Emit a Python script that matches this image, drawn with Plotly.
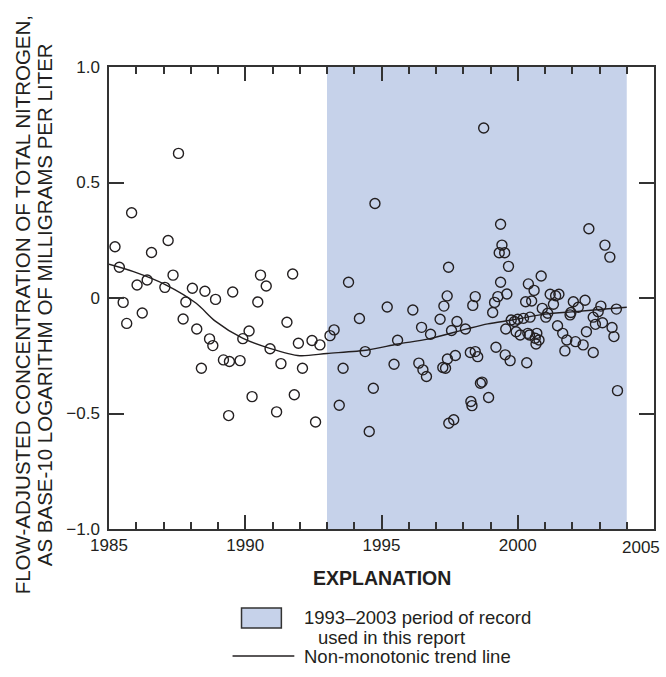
import plotly.graph_objects as go

# ---- data ----
years = [1985.22, 1985.38, 1985.52, 1985.65, 1985.83, 1986.03, 1986.22, 1986.40, 1986.56, 1987.05,
         1987.17, 1987.35, 1987.55, 1987.72, 1987.82, 1988.06, 1988.22, 1988.39, 1988.52, 1988.69,
         1988.81, 1988.91, 1989.20, 1989.39, 1989.42, 1989.54, 1989.81, 1989.91, 1990.14, 1990.25,
         1990.46, 1990.56, 1990.77, 1990.91, 1991.15, 1991.31, 1991.53, 1991.74, 1991.80, 1991.95,
         1992.10, 1992.45, 1992.58, 1992.74, 1993.11, 1993.26, 1993.45, 1993.59, 1993.79, 1994.19,
         1994.40, 1994.55, 1994.70, 1994.76, 1995.21, 1995.46, 1995.59, 1996.15, 1996.37, 1996.47,
         1996.52, 1996.65, 1996.80, 1997.15, 1997.25, 1997.29, 1997.35, 1997.41, 1997.42, 1997.46,
         1997.47, 1997.57, 1997.65, 1997.71, 1997.77, 1998.08, 1998.26, 1998.28, 1998.32, 1998.35,
         1998.44, 1998.44, 1998.53, 1998.63, 1998.69, 1998.75, 1998.93, 1999.08, 1999.15, 1999.20,
         1999.27, 1999.32, 1999.37, 1999.37, 1999.42, 1999.52, 1999.54, 1999.56, 1999.60, 1999.66,
         1999.72, 1999.76, 1999.88, 1999.94, 2000.00, 2000.09, 2000.21, 2000.29, 2000.33, 2000.37,
         2000.39, 2000.43, 2000.45, 2000.51, 2000.60, 2000.64, 2000.67, 2000.70, 2000.78, 2000.86,
         2000.90, 2001.03, 2001.10, 2001.19, 2001.31, 2001.39, 2001.46, 2001.51, 2001.65, 2001.73,
         2001.80, 2001.92, 2001.95, 2002.04, 2002.12, 2002.22, 2002.40, 2002.47, 2002.52, 2002.61,
         2002.77, 2002.77, 2002.85, 2002.95, 2003.05, 2003.11, 2003.20, 2003.38, 2003.46, 2003.53,
         2003.62, 2003.66]
concentration = [0.222, 0.133, -0.019, -0.110, 0.369, 0.056, -0.065, 0.078, 0.197, 0.046,
                 0.249, 0.099, 0.626, -0.091, -0.017, 0.042, -0.134, -0.304, 0.029, -0.177,
                 -0.206, -0.006, -0.268, -0.509, -0.275, 0.026, -0.271, -0.176, -0.143, -0.427,
                 -0.017, 0.099, 0.052, -0.220, -0.493, -0.284, -0.105, 0.104, -0.419, -0.196,
                 -0.304, -0.184, -0.537, -0.203, -0.163, -0.138, -0.464, -0.304, 0.068, -0.089,
                 -0.232, -0.578, -0.391, 0.409, -0.039, -0.287, -0.183, -0.052, -0.282, -0.127,
                 -0.311, -0.340, -0.157, -0.092, -0.301, -0.035, -0.304, 0.009, -0.264, 0.133,
                 -0.542, -0.141, -0.527, -0.249, -0.102, -0.134, -0.236, -0.448, -0.466, -0.032,
                 0.006, -0.232, -0.254, -0.369, -0.364, 0.736, -0.431, -0.063, -0.019, -0.213,
                 0.006, 0.196, 0.319, 0.068, 0.229, 0.196, -0.246, -0.134, 0.017, 0.137,
                 -0.271, -0.095, -0.102, -0.146, -0.092, -0.160, -0.088, -0.016, -0.280, -0.153,
                 0.061, -0.160, -0.083, -0.013, 0.033, -0.174, -0.199, -0.153, -0.182, 0.095,
                 -0.045, -0.083, -0.066, 0.016, -0.027, 0.010, -0.120, 0.016, -0.153, -0.229,
                 -0.182, -0.073, -0.063, -0.016, -0.189, -0.040, -0.203, -0.010, -0.146, 0.300,
                 -0.083, -0.236, -0.114, -0.059, -0.035, -0.107, 0.229, 0.177, -0.128, -0.167,
                 -0.048, -0.401]

trend_years = [1985.0, 1985.9, 1987.1, 1988.2, 1988.9, 1989.9, 1990.9, 1992.0, 1993.0, 1994.5,
               1995.6, 1996.7, 1998.1, 1998.9, 1999.8, 2001.0, 2002.1, 2003.1, 2004.0]
trend_values = [0.146, 0.114, 0.056, -0.023, -0.100, -0.174, -0.218, -0.250, -0.240, -0.225,
                -0.199, -0.178, -0.135, -0.112, -0.095, -0.070, -0.059, -0.049, -0.040]

period_start, period_end = 1993, 2004
x_tickvals = [1985, 1990, 1995, 2000]
x_ticktext = ["1985", "1990", "1995", "2000"]
x_last_tick = 2005
x_last_text = "2005"
y_tickvals = [-1.0, -0.5, 0, 0.5, 1.0]
y_ticktext = ["\u22121.0", "\u22120.5", "0", "0.5", "1.0"]

# ---- layout geometry (pixels) ----
W, H = 666, 677
ML, MR, MT, MB = 109, 10, 67, 148
PW, PH = W - ML - MR, H - MT - MB
TXT = "#231F20"
SHADE = "#C6D2EA"
FONT = "Arial, Liberation Sans, Helvetica, sans-serif"


def px(x):
    return (x - ML) / PW


def py(y):
    return (MT + PH - y) / PH


fig = go.Figure()
fig.add_trace(go.Scatter(x=trend_years, y=trend_values, mode="lines",
                         line=dict(color="#231F20", width=1.4, shape="spline", smoothing=0.8),
                         showlegend=False, hoverinfo="skip"))
fig.add_trace(go.Scatter(x=years, y=concentration, mode="markers",
                         marker=dict(symbol="circle-open", size=10, color="#231F20",
                                     line=dict(width=1.4, color="#231F20")),
                         showlegend=False))

shapes = [
    dict(type="rect", xref="x", yref="paper", x0=period_start, x1=period_end, y0=0, y1=1,
         fillcolor=SHADE, line=dict(width=0), layer="below"),
    # legend box
    dict(type="rect", xref="paper", yref="paper", x0=px(242), x1=px(282), y0=py(628), y1=py(608),
         fillcolor=SHADE, line=dict(color="#333333", width=1.5)),
    # legend line
    dict(type="line", xref="paper", yref="paper", x0=px(233), x1=px(295), y0=py(656), y1=py(656),
         line=dict(color="#231F20", width=1.4)),
]

annotations = [
    dict(text="FLOW-ADJUSTED CONCENTRATION OF TOTAL NITROGEN,", textangle=-90,
         xref="paper", yref="paper", x=px(22), y=py(305), xanchor="center", yanchor="middle",
         showarrow=False, font=dict(size=20.5, color=TXT, family=FONT)),
    dict(text="AS BASE-10 LOGARITHM OF MILLIGRAMS PER LITER", textangle=-90,
         xref="paper", yref="paper", x=px(44), y=py(305), xanchor="center", yanchor="middle",
         showarrow=False, font=dict(size=20.5, color=TXT, family=FONT)),
    # last x tick label, pulled inside the page edge as in the original
    dict(text=x_last_text, xref="paper", yref="paper", x=px(664), y=py(547),
         xanchor="right", yanchor="middle", showarrow=False,
         font=dict(size=17, color=TXT, family=FONT)),
    dict(text="<b>EXPLANATION</b>", xref="paper", yref="paper", x=px(383), y=py(578),
         xanchor="center", yanchor="middle", showarrow=False,
         font=dict(size=19.5, color=TXT, family=FONT)),
    dict(text="1993\u20132003 period of record", xref="paper", yref="paper", x=px(303), y=py(617),
         xanchor="left", yanchor="middle", showarrow=False,
         font=dict(size=18.5, color=TXT, family=FONT)),
    dict(text="used in this report", xref="paper", yref="paper", x=px(317), y=py(637),
         xanchor="left", yanchor="middle", showarrow=False,
         font=dict(size=18.5, color=TXT, family=FONT)),
    dict(text="Non-monotonic trend line", xref="paper", yref="paper", x=px(303), y=py(656),
         xanchor="left", yanchor="middle", showarrow=False,
         font=dict(size=18.5, color=TXT, family=FONT)),
]

axis_common = dict(showgrid=False, zeroline=False, showline=True, linecolor="#333333",
                   linewidth=1.5, mirror="ticks", ticks="inside", tickcolor="#333333",
                   tickwidth=1.5, tickfont=dict(size=17, color=TXT, family=FONT))

fig.update_layout(
    width=W, height=H, margin=dict(l=ML, r=MR, t=MT, b=MB),
    paper_bgcolor="white", plot_bgcolor="white",
    shapes=shapes, annotations=annotations, showlegend=False,
    xaxis=dict(range=[1985, x_last_tick], tickvals=x_tickvals, ticktext=x_ticktext, ticklen=14,
               minor=dict(dtick=1, tick0=1985, ticks="inside", ticklen=7, tickcolor="#333333",
                          tickwidth=1.5, showgrid=False),
               **axis_common),
    yaxis=dict(range=[-1, 1], tickvals=y_tickvals, ticktext=y_ticktext, ticklen=15,
               ticklabelstandoff=4, **axis_common),
)

fig.write_html("out.html")
